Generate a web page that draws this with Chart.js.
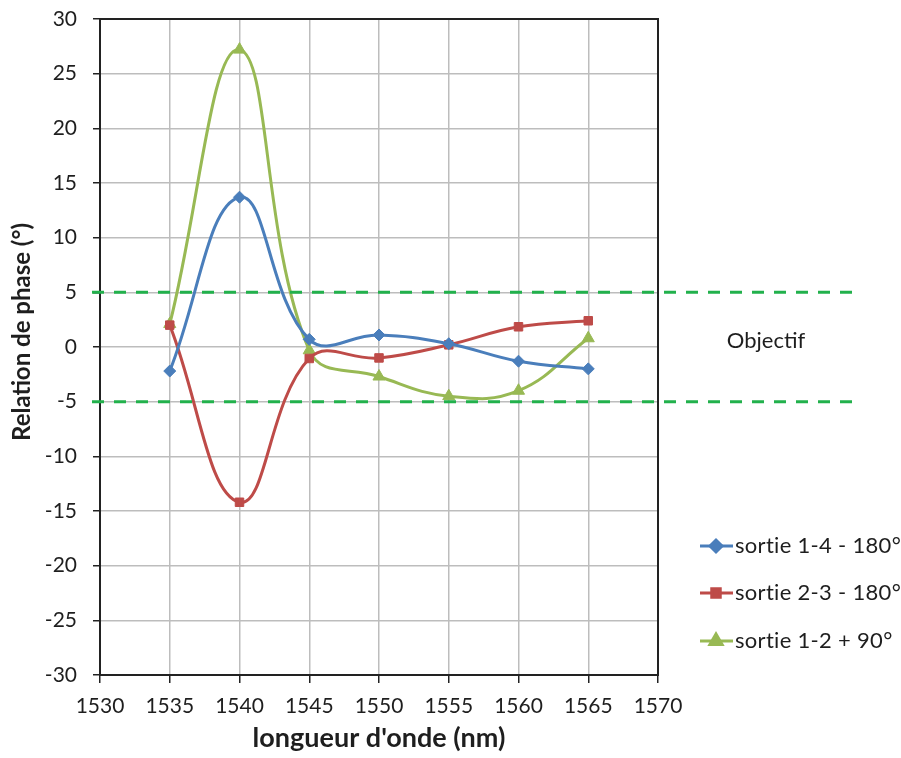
<!DOCTYPE html>
<html><head><meta charset="utf-8">
<script src="https://cdn.jsdelivr.net/npm/chart.js@4.4.0/dist/chart.umd.min.js"></script>
<style>html,body{margin:0;padding:0;background:#fff}#wrap{width:901px;height:758px}</style>
</head><body><div id="wrap"><canvas id="c" width="901" height="758"></canvas></div>
<script>
const wavelengths = [1535, 1540, 1545, 1550, 1555, 1560, 1565];
const sortie14 = [-2.2, 13.7, 0.7, 1.1, 0.3, -1.3, -2.0];
const sortie23 = [2.0, -14.2, -1.05, -1.0, 0.2, 1.85, 2.4];
const sortie12 = [2.1, 27.2, -0.3, -2.7, -4.5, -4.0, 0.8];
const seriesNames = ['sortie 1-4 - 180°', 'sortie 2-3 - 180°', 'sortie 1-2 + 90°'];
const targetLevels = [5, -5];
const targetLabel = 'Objectif';
const xTitle = "longueur d'onde (nm)";
const yTitle = 'Relation de phase (°)';

const FONT = 'Lato, "Open Sans", sans-serif';
const TXT = '#1e1e1e';
const colors = ['#4a7ebb', '#be4b48', '#98b954'];
const styles = ['rectRot', 'rect', 'triangle'];
const radii = [6, 6, 7];

function pts(arr){ return wavelengths.map((w,i)=>({x:w,y:arr[i]})); }
const sets = [sortie14, sortie23, sortie12].map((arr,i)=>({
  label: seriesNames[i], data: pts(arr),
  borderColor: colors[i], backgroundColor: colors[i],
  borderWidth: 3, tension: 0.42,
  pointStyle: styles[i], pointRadius: radii[i], pointHoverRadius: radii[i],
  pointBorderWidth: 1, pointBorderColor: colors[i], pointBackgroundColor: colors[i]
}));

const extras = {
  id: 'extras',
  afterDraw(chart){
    const ctx = chart.ctx, a = chart.chartArea, y = chart.scales.y;
    ctx.save();
    ctx.strokeStyle = '#222'; ctx.lineWidth = 2;
    ctx.strokeRect(a.left, a.top, a.right - a.left, a.bottom - a.top);
    ctx.strokeStyle = '#22b14c'; ctx.lineWidth = 3; ctx.setLineDash([12, 10]);
    targetLevels.forEach(v=>{
      const py = y.getPixelForValue(v);
      ctx.beginPath(); ctx.moveTo(a.left - 8, py); ctx.lineTo(855, py); ctx.stroke();
    });
    ctx.setLineDash([]);
    ctx.fillStyle = TXT; ctx.font = '22px ' + FONT; ctx.textAlign = 'center'; ctx.textBaseline = 'middle';
    ctx.fillText(targetLabel, 766, y.getPixelForValue(0) - 6);
    ctx.save();
    ctx.translate(22, 332); ctx.rotate(-Math.PI/2);
    ctx.font = 'bold 24px ' + FONT; ctx.textAlign = 'center'; ctx.textBaseline = 'middle';
    ctx.fillText(yTitle, 0, 0);
    ctx.restore();
    const ly = [546, 593, 641];
    chart.data.datasets.forEach((ds,i)=>{
      ctx.strokeStyle = ds.borderColor; ctx.lineWidth = 3;
      ctx.beginPath(); ctx.moveTo(700, ly[i]); ctx.lineTo(733, ly[i]); ctx.stroke();
      ctx.fillStyle = ds.borderColor;
      Chart.helpers.drawPoint(ctx, {pointStyle: ds.pointStyle, radius: ds.pointRadius, borderWidth: 1, rotation: 0}, 716, ly[i]);
      ctx.fillStyle = TXT; ctx.font = '22px ' + FONT; ctx.textAlign = 'left'; ctx.textBaseline = 'middle';
      if ('letterSpacing' in ctx) ctx.letterSpacing = '0.3px';
      ctx.fillText(ds.label, 735, ly[i]);
      if ('letterSpacing' in ctx) ctx.letterSpacing = '0px';
    });
    ctx.restore();
  }
};

new Chart(document.getElementById('c'), {
  type: 'line',
  data: { datasets: sets },
  options: {
    responsive: false, animation: false,
    layout: { padding: { top: 19, right: 243, left: 0, bottom: 0 } },
    plugins: { legend: { display: false }, tooltip: { enabled: false } },
    scales: {
      x: {
        type: 'linear', min: 1530, max: 1570,
        ticks: { stepSize: 5, color: TXT, font: { family: FONT, size: 21 }, padding: 11, maxRotation: 0, callback: v => String(v) },
        grid: { color: '#bdbdbd', lineWidth: 1.5, tickColor: '#222', tickLength: 8, drawTicks: true },
        border: { color: '#222', width: 2 },
        title: { display: true, text: xTitle, color: TXT, font: { family: FONT, size: 27, weight: 'bold' }, padding: { top: 4, bottom: 4 } },
        afterFit(s){ s.height = 83; s.paddingLeft = 0; s.paddingRight = 0; }
      },
      y: {
        min: -30, max: 30,
        ticks: { stepSize: 5, color: TXT, font: { family: FONT, size: 21 }, padding: 16 },
        grid: { color: '#bdbdbd', lineWidth: 1.5, tickColor: '#222', tickLength: 7 },
        border: { color: '#222', width: 2 },
        title: { display: false },
        afterFit(s){ s.width = 100; s.paddingTop = 0; s.paddingBottom = 0; }
      }
    }
  },
  plugins: [extras]
});
</script></body></html>
